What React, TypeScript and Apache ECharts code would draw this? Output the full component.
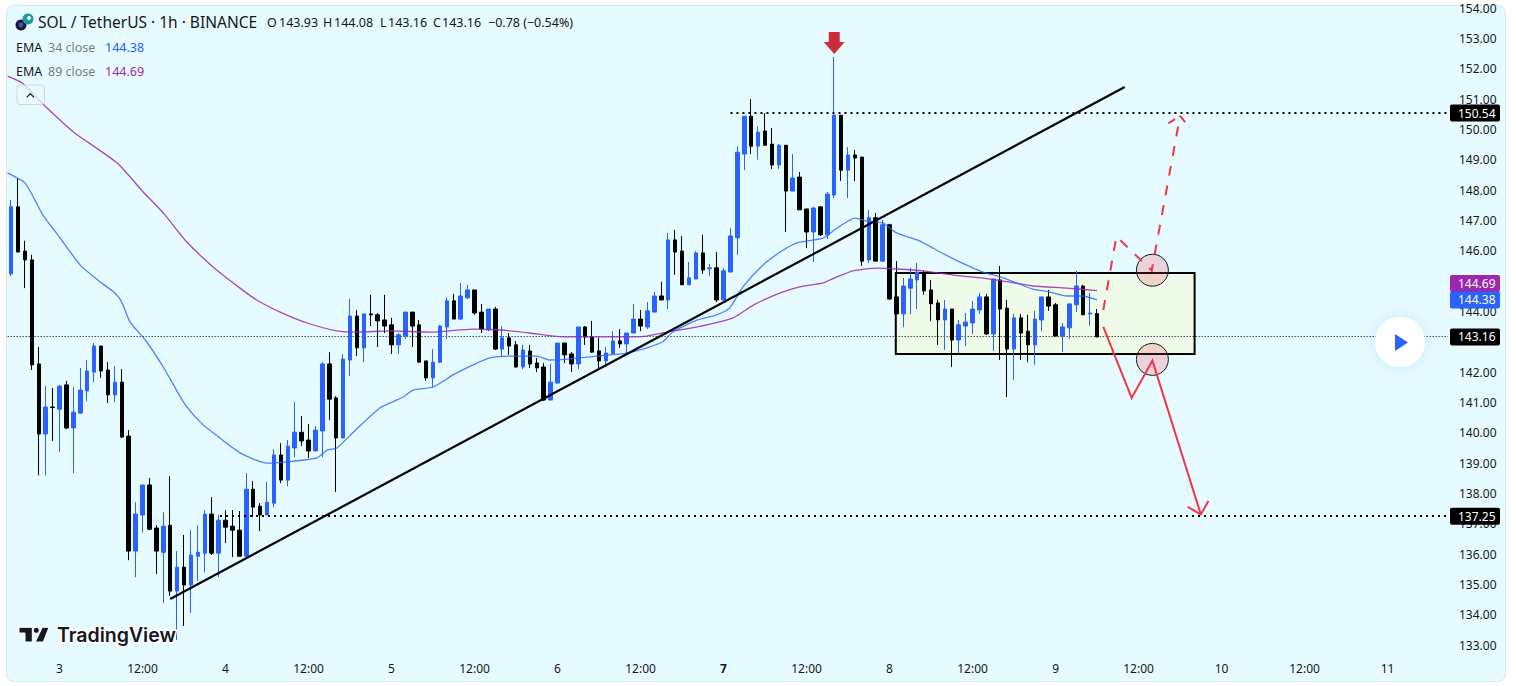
import React, { useEffect, useRef } from "react";
import * as echarts from "echarts";

const FONT = '"Noto Sans", sans-serif';

const opens = [
145.24,147.45,145.99,145.70,142.27,139.96,140.85,140.78,141.58,140.16,
140.65,141.38,142.00,142.86,142.07,141.25,141.67,139.89,136.10,137.29,
138.28,136.86,136.06,136.95,134.78,135.57,134.98,135.93,136.03,137.32,
136.03,137.12,136.92,136.79,135.93,138.14,137.58,137.29,137.68,139.27,
138.44,139.50,140.02,139.76,139.40,140.06,142.27,141.15,139.83,142.40,
143.85,142.80,143.92,143.89,143.72,143.56,142.90,143.19,143.98,143.56,
142.37,141.81,142.33,143.49,144.35,143.75,144.45,144.71,143.98,143.39,
144.08,142.76,143.13,142.90,142.17,142.70,142.30,142.17,141.08,141.64,
142.96,142.60,142.27,143.49,143.16,142.70,142.37,142.60,143.03,142.93,
143.29,143.75,143.49,143.98,144.51,144.38,146.36,145.99,144.88,145.07,
145.93,145.41,145.44,144.38,145.30,146.43,149.19,150.44,149.45,149.95,
149.52,148.83,149.48,147.97,148.43,147.38,146.62,147.45,146.53,147.84,
150.47,148.66,149.16,149.09,145.70,147.09,145.66,146.86,144.48,143.92,
144.77,145.04,145.27,144.71,144.28,143.72,144.08,143.06,143.52,143.62,
144.05,144.48,143.26,145.04,144.11,142.76,143.79,143.35,142.90,143.72,
144.48,144.22,143.19,143.46,144.22,144.84,143.92,143.93];
const closes = [
147.45,145.96,145.70,142.24,139.96,140.85,140.83,141.54,140.16,140.68,
141.41,142.04,142.86,142.04,141.25,141.67,139.86,136.10,137.32,138.28,
136.82,136.10,136.92,134.78,135.57,134.98,135.97,136.06,137.32,136.03,
137.12,136.89,136.79,135.93,138.14,137.55,137.29,137.71,139.27,138.44,
139.56,140.02,139.73,139.40,140.09,142.27,141.11,139.83,142.43,143.85,
142.80,143.92,143.89,143.69,143.52,142.90,143.23,143.98,143.52,142.33,
141.81,142.33,143.52,144.35,143.75,144.51,144.71,143.95,143.42,144.08,
142.76,143.13,142.86,142.17,142.73,142.27,142.14,141.08,141.67,142.96,
142.57,142.27,143.49,143.16,142.66,142.37,142.63,143.03,142.93,143.29,
143.75,143.52,144.02,144.51,144.38,146.36,145.96,144.88,145.11,145.93,
145.37,145.44,144.38,145.34,146.49,149.25,150.44,149.45,149.91,149.48,
148.83,149.48,147.97,148.40,147.35,146.62,147.41,146.53,147.87,150.47,
148.66,149.16,149.06,145.66,147.09,145.66,146.86,144.41,143.92,144.84,
145.07,145.30,144.68,144.25,143.72,144.08,143.06,143.56,143.65,144.08,
144.48,143.26,145.07,144.08,142.76,143.79,143.29,142.90,143.75,144.48,
144.18,143.19,143.49,144.25,144.84,143.89,143.95,143.16];
const lows = [
145.17,145.96,144.77,142.07,138.60,138.60,139.73,139.36,140.12,138.67,
140.62,141.05,141.67,141.81,140.98,141.01,139.83,135.80,135.24,136.72,
136.79,135.34,134.39,134.62,133.17,133.63,134.06,135.11,135.40,135.97,
135.24,136.36,135.90,135.93,135.93,137.22,136.76,137.29,137.55,138.34,
138.24,139.20,139.56,139.17,139.40,139.20,140.42,138.05,139.83,141.87,
142.53,142.33,143.52,142.83,143.29,142.60,142.60,143.09,142.83,142.30,
141.71,141.51,142.30,143.09,143.75,143.72,144.41,143.89,143.29,143.35,
142.73,142.53,142.57,142.14,142.10,142.14,142.00,141.05,141.08,141.64,
142.30,142.00,142.10,142.90,142.63,142.10,142.17,142.57,142.80,142.60,
143.29,143.35,143.42,143.98,144.38,144.08,145.21,144.88,144.88,145.07,
145.24,145.17,144.31,144.38,145.30,145.87,148.66,149.19,149.02,149.48,
148.70,148.70,146.62,147.97,147.35,146.09,145.63,146.49,146.39,147.74,
148.30,147.74,148.30,145.50,145.60,145.66,145.66,144.38,143.92,143.49,
143.92,144.08,144.55,143.69,142.90,142.73,142.17,142.63,142.86,143.26,
143.92,143.23,142.70,142.40,141.18,141.74,142.40,142.33,142.24,143.35,
144.02,143.19,142.66,143.09,143.98,143.89,143.52,143.16];
const highs = [
147.68,148.40,146.33,145.87,142.83,141.54,141.48,141.58,141.71,141.51,
142.14,142.40,142.96,142.86,142.33,142.20,142.10,140.09,137.71,138.28,
138.51,136.95,137.38,138.57,136.10,136.63,136.79,136.95,137.45,137.88,
137.29,137.45,137.45,137.42,138.67,138.41,137.68,138.37,139.46,139.66,
139.76,141.01,140.55,140.29,140.22,142.33,142.66,141.21,142.60,144.41,
144.05,143.92,144.55,143.95,144.55,143.79,143.29,143.98,143.98,143.72,
142.37,142.76,143.56,144.45,144.58,144.94,144.88,144.71,144.25,144.08,
144.15,143.52,143.29,143.03,142.90,142.90,142.47,142.30,142.27,142.96,
142.96,142.66,143.49,143.52,143.69,143.13,142.83,143.35,143.42,143.29,
144.25,144.05,144.31,144.65,144.98,146.59,146.69,146.49,145.63,145.99,
146.53,145.57,145.96,145.44,146.76,149.45,150.44,151.00,150.11,150.54,
150.05,149.52,149.48,149.19,148.60,147.38,147.45,147.45,147.94,152.39,
150.47,149.42,149.32,149.09,147.35,147.25,147.02,146.89,145.66,145.11,
145.44,145.60,145.34,145.04,144.38,144.38,144.08,143.72,143.95,144.35,
144.61,144.58,145.07,145.50,144.38,143.92,143.92,143.89,144.02,144.48,
144.71,144.28,143.62,144.25,145.34,144.88,144.61,144.08];

const ema34: [number, number][] = [
[-0.5,148.57],[0.85,148.40],[2,148.24],[3.2,147.78],[4.6,147.18],[7.1,146.42],[10,145.53],[12.9,144.97],[15,144.61],[16,144.31],
[17.2,143.65],[19.4,143.06],[22,142.17],[24.9,141.02],[27.3,140.36],[29.2,140.0],[33.1,139.34],[37,139.0],[39.9,139.04],[44.2,139.17],
[45.7,139.43],[47.1,139.5],[49.4,140.0],[53.3,140.82],[56.7,141.18],[58.1,141.41],[61,141.51],[63.9,141.91],[66.8,142.24],[69.2,142.47],
[72.6,142.53],[76,142.53],[77.9,142.40],[80.4,142.43],[84.7,142.53],[89,142.63],[91.9,142.80],[94.2,143.0],[95.7,143.33],[99.2,143.72],
[102,143.89],[103.9,144.12],[105.8,144.81],[108.7,145.53],[111.2,145.96],[113.6,146.26],[117.4,146.42],[119.4,146.75],[122,147.08],[123.7,146.98],
[126,146.92],[128,146.59],[131.4,146.32],[134.3,145.96],[137.2,145.63],[140.5,145.30],[143,145.14],[145.4,144.94],[147.7,144.74],[150.2,144.64],
[152.6,144.51],[154.9,144.51],[157,144.38]];
const ema89: [number, number][] = [
[-0.5,151.76],[1.6,151.53],[4.6,150.84],[9,149.92],[15.3,148.90],[19.1,147.94],[22,147.25],[25.4,146.29],[29.2,145.47],[33.1,144.77],
[35.5,144.38],[38.9,143.98],[42.8,143.62],[47.1,143.36],[50,143.32],[54.8,143.36],[60.6,143.32],[66.8,143.42],[70.7,143.39],[75,143.29],
[78.4,143.19],[82.7,143.16],[87.6,143.16],[91.9,143.19],[94.8,143.32],[99.2,143.49],[104.4,143.79],[107.3,144.21],[111.2,144.61],[114,144.81],
[117.4,144.94],[119.4,145.14],[121.7,145.34],[125.2,145.43],[128,145.40],[131.8,145.34],[136.2,145.20],[140.5,145.10],[144.4,144.97],[147.7,144.84],
[152.6,144.77],[157,144.69]];

const xTickLabels = ["3","12:00","4","12:00","5","12:00","6","12:00","7","12:00","8","12:00","9","12:00","10","12:00","11"];
const coveredYTicks = [143, 145];
const FIRST_TICK_BAR = 7;
const BARS_PER_TICK = 12;
const BAR_SLOTS = 208;
const AXIS_END = 207.75;

const trendLine: [number, number][] = [[23,134.52],[161,151.40]];
const resistance: [number, number][] = [[104,150.54],[AXIS_END,150.54]];
const support: [number, number][] = [[30.2,137.25],[AXIS_END,137.25]];
const lastPriceLine: [number, number][] = [[-0.5,143.16],[AXIS_END,143.16]];
const rangeBox: [number, number][] = [[127.9,145.27],[171.1,142.60]];
const circles: [number, number][] = [[165,145.36],[165,142.42]];
const bearPath: [number, number][] = [[157.9,143.49],[162,141.15],[165,142.38],[172,137.31]];
const bearHead: [number, number][] = [[170.1,137.56],[172,137.31],[173.1,137.75]];
const bullPath: [number, number][] = [[157.9,144.05],[159.8,146.47],[164.9,145.35],[169,150.45]];
const bullHead: [number, number][] = [[167.3,150.20],[169,150.45],[170.3,150.09]];
const downArrowTip: [number, number] = [119,152.49];
const priceTags = [
  { price: 150.54, label: "150.54", color: "#000000", shift: 0 },
  { price: 144.69, label: "144.69", color: "#9C27B0", shift: -7 },
  { price: 144.38, label: "144.38", color: "#2962FF", shift: 0 },
  { price: 143.16, label: "143.16", color: "#000000", shift: 0 },
  { price: 137.25, label: "137.25", color: "#000000", shift: 0 },
];

const RED = "#F23645";

function App() {
  const ref = useRef<HTMLDivElement>(null);
  useEffect(() => {
    const chart = echarts.init(ref.current!, null, { renderer: "svg" });
    const categories = Array.from({ length: BAR_SLOTS }, (_, i) => {
      const k = (i - FIRST_TICK_BAR) / BARS_PER_TICK;
      return Number.isInteger(k) && k >= 0 && k < xTickLabels.length ? xTickLabels[k] : "";
    });
    const candleData = opens.map((o, i) => [o, closes[i], lows[i], highs[i]]);
    const poly = (api: any, pts: [number, number][], style: any) => ({
      type: "polyline",
      shape: { points: pts.map((p) => api.coord(p)) },
      style: { fill: "none", ...style },
    });
    const hLine = (api: any, pts: [number, number][], style: any) => {
      const a = api.coord(pts[0]);
      const b = api.coord(pts[1]);
      const y = style.lineWidth % 2 ? Math.floor(a[1]) + 0.5 : Math.round(a[1]);
      return {
        type: "line",
        shape: { x1: a[0], y1: y, x2: b[0], y2: y },
        style: { fill: "none", ...style },
      };
    };
    const drawings = (z: number, render: (api: any) => any[]) => ({
      type: "custom",
      xAxisIndex: 1,
      yAxisIndex: 0,
      z,
      silent: true,
      clip: false,
      data: [[0, 140]],
      renderItem: (_: any, api: any) => ({ type: "group", children: render(api) }),
    });
    const txt = (text: string, x: number, y: number, fill: string, size = 12, weight: any = 400) => ({
      type: "text",
      z: 200,
      style: { text, x, y, fill, font: `${weight} ${size}px ${FONT}`, verticalAlign: "middle" },
    });
    const DARK = "#131722";
    const GREY = "#787B86";
    chart.setOption({
      animation: false,
      grid: { left: 7.64, width: 1438.74, top: 8.18, height: 636.93, containLabel: false },
      tooltip: { show: false },
      xAxis: [
        {
          type: "category",
          data: categories,
          boundaryGap: true,
          axisLine: { show: false },
          axisTick: { show: false },
          splitLine: { show: false },
          axisLabel: {
            interval: (i: number) => categories[i] !== "",
            margin: 17,
            color: DARK,
            fontSize: 12,
            fontFamily: FONT,
            hideOverlap: false,
            formatter: (v: string) => (v === "7" ? "{b|7}" : v),
            rich: { b: { fontWeight: 700, fontSize: 12, color: DARK, fontFamily: FONT } },
          },
        },
        { type: "value", show: false, min: -0.5, max: BAR_SLOTS - 0.5, splitLine: { show: false } },
      ],
      yAxis: {
        type: "value",
        position: "right",
        min: 133,
        max: 154,
        interval: 1,
        axisLine: { show: false },
        axisTick: { show: false },
        splitLine: { show: false },
        axisLabel: {
          margin: 12.6,
          color: DARK,
          fontSize: 12,
          fontFamily: FONT,
          formatter: (v: number) => (coveredYTicks.includes(v) ? "" : v.toFixed(2)),
        },
      },
      series: [
        drawings(1, (api) => {
          const a = api.coord(rangeBox[0]);
          const b = api.coord(rangeBox[1]);
          return [
            {
              type: "rect",
              shape: { x: a[0], y: a[1], width: b[0] - a[0], height: b[1] - a[1] },
              style: { fill: "#EEFBE8", stroke: "#000000", lineWidth: 2 },
            },
          ];
        }),
        drawings(2, (api) => [
          hLine(api, lastPriceLine, { stroke: "#000", lineWidth: 1, lineDash: [1, 2] }),
        ]),
        {
          type: "candlestick",
          xAxisIndex: 0,
          yAxisIndex: 0,
          z: 3,
          barWidth: 4,
          data: candleData,
          itemStyle: {
            color: "#2962FF",
            color0: "#000000",
            borderColor: "#2962FF",
            borderColor0: "#000000",
            borderWidth: 1,
          },
          silent: true,
        },
        {
          type: "line",
          xAxisIndex: 1,
          yAxisIndex: 0,
          z: 4,
          data: ema89,
          showSymbol: false,
          smooth: 0.2,
          silent: true,
          lineStyle: { color: "#9C27B0", width: 1.3, opacity: 0.85 },
        },
        {
          type: "line",
          xAxisIndex: 1,
          yAxisIndex: 0,
          z: 4,
          data: ema34,
          showSymbol: false,
          smooth: 0.2,
          silent: true,
          lineStyle: { color: "#2962FF", width: 1.3, opacity: 0.8 },
        },
        drawings(5, (api) => [
          hLine(api, resistance, { stroke: "#000", lineWidth: 2, lineDash: [2, 4] }),
          hLine(api, support, { stroke: "#000", lineWidth: 2, lineDash: [2, 4] }),
          poly(api, trendLine, { stroke: "#000", lineWidth: 2.2 }),
          ...circles.map((c) => {
            const p = api.coord(c);
            return {
              type: "circle",
              shape: { cx: p[0], cy: p[1], r: 16 },
              style: { fill: "rgba(242,54,69,0.2)", stroke: "#131722", lineWidth: 1 },
            };
          }),
          poly(api, bearPath, { stroke: RED, lineWidth: 2 }),
          poly(api, bearHead, { stroke: RED, lineWidth: 2 }),
          poly(api, bullPath, { stroke: RED, lineWidth: 2, lineDash: [10, 10] }),
          poly(api, bullHead, { stroke: RED, lineWidth: 2, lineDash: [8, 6] }),
          (() => {
            const t = api.coord(downArrowTip);
            const [x, y] = t;
            return {
              type: "polygon",
              shape: {
                points: [
                  [x, y], [x - 10.5, y - 12], [x - 5.5, y - 12], [x - 5.5, y - 22],
                  [x + 5.5, y - 22], [x + 5.5, y - 12], [x + 10.5, y - 12],
                ],
              },
              style: { fill: "#CE2B3F" },
            };
          })(),
        ]),
        drawings(20, (api) =>
          priceTags.flatMap((t) => {
            const y = api.coord([0, t.price])[1] + t.shift;
            return [
              {
                type: "rect",
                shape: { x: 1450, y: y - 8.5, width: 50, height: 17, r: 2 },
                style: { fill: t.color },
              },
              {
                type: "text",
                style: {
                  text: t.label,
                  x: 1458,
                  y,
                  fill: "#fff",
                  font: `12px ${FONT}`,
                  verticalAlign: "middle",
                },
              },
            ];
          })
        ),
      ],
      graphic: {
        elements: [
          { type: "circle", z: 200, shape: { cx: 21, cy: 25, r: 5.5 }, style: { fill: "#171C2B" } },
          { type: "circle", z: 200, shape: { cx: 21, cy: 25, r: 2.5 }, style: { fill: "#5B3FD6" } },
          { type: "circle", z: 200, shape: { cx: 28, cy: 19, r: 5.5 }, style: { fill: "#1D9A96" } },
          { type: "circle", z: 200, shape: { cx: 29, cy: 18, r: 2 }, style: { fill: "#E6FBFF" } },
          txt("SOL / TetherUS · 1h · BINANCE", 38, 22, DARK, 15.5),
          txt("O", 267, 22, DARK, 12.5), txt("143.93", 279, 22, DARK, 12.5),
          txt("H", 323, 22, DARK, 12.5), txt("144.08", 334, 22, DARK, 12.5),
          txt("L", 380, 22, DARK, 12.5), txt("143.16", 388, 22, DARK, 12.5),
          txt("C", 433, 22, DARK, 12.5), txt("143.16", 442, 22, DARK, 12.5),
          txt("−0.78 (−0.54%)", 488, 22, DARK, 12.5),
          txt("EMA", 16, 47, DARK, 12.5), txt("34 close", 48, 47, GREY, 12.5), txt("144.38", 105, 47, "#2962FF", 12.5),
          txt("EMA", 16, 71, DARK, 12.5), txt("89 close", 48, 71, GREY, 12.5), txt("144.69", 105, 71, "#9C27B0", 12.5),
          {
            type: "rect", z: 190,
            shape: { x: 17, y: 85, width: 27.5, height: 19.5, r: 3 },
            style: { fill: "rgba(230,251,255,0.7)", stroke: "#D1D4DC", lineWidth: 1 },
          },
          {
            type: "polyline", z: 200,
            shape: { points: [[26.7, 97.3], [30.3, 93.5], [34, 97.3]] },
            style: { fill: "none", stroke: DARK, lineWidth: 1.2 },
          },
          {
            type: "polygon", z: 200,
            shape: { points: [[19, 627.3], [32.3, 627.3], [32.3, 642], [25, 642], [25, 633], [19, 633]] },
            style: { fill: DARK, stroke: "#fff", lineWidth: 1 },
          },
          { type: "circle", z: 200, shape: { cx: 36.3, cy: 630.3, r: 3 }, style: { fill: DARK, stroke: "#fff", lineWidth: 1 } },
          {
            type: "polygon", z: 200,
            shape: { points: [[42.3, 627.3], [49, 627.3], [43.3, 642], [35.3, 642]] },
            style: { fill: DARK, stroke: "#fff", lineWidth: 1 },
          },
          {
            type: "text", z: 200,
            style: {
              text: "TradingView", x: 57, y: 635, fill: DARK,
              font: `600 19.5px Inter, ${FONT}`, verticalAlign: "middle",
              stroke: "#fff", lineWidth: 3,
            },
          },
          {
            type: "circle", z: 210,
            shape: { cx: 1400, cy: 342, r: 25 },
            style: { fill: "#fff", shadowBlur: 22, shadowColor: "rgba(41,98,255,0.12)" },
          },
          {
            type: "polygon", z: 211,
            shape: { points: [[1395, 334], [1408, 342.5], [1395, 351]] },
            style: { fill: "#2962FF" },
          },
        ],
      },
    });
    return () => chart.dispose();
  }, []);
  return (
    <div style={{ position: "fixed", left: 0, top: 0, width: 1516, height: 686, background: "#fff", overflow: "hidden" }}>
      <div
        style={{
          position: "absolute", left: 6, top: 5, width: 1498, height: 675,
          background: "#E6FBFF", border: "1px solid #D8E6EE", borderRadius: 8,
        }}
      />
      <div ref={ref} style={{ position: "absolute", left: 0, top: 0, width: 1516, height: 686 }} />
    </div>
  );
}

export default App;
